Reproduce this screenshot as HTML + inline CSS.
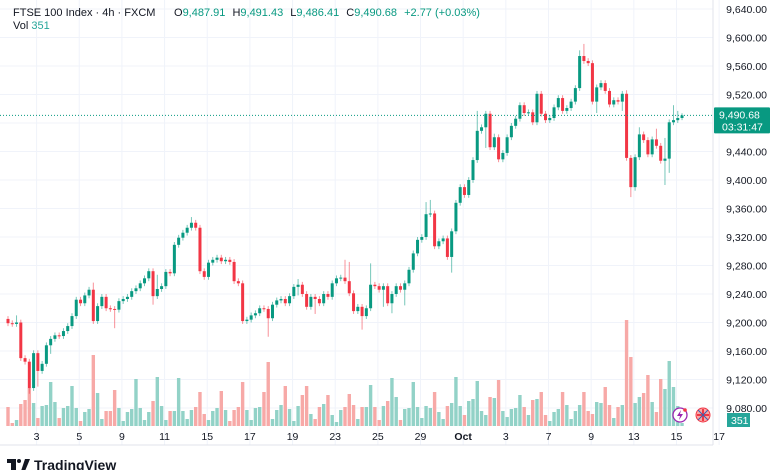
<!DOCTYPE html>
<html><head><meta charset="utf-8">
<style>
body{margin:0;background:#fff;font-family:"Liberation Sans",sans-serif;}
#wrap{position:relative;width:780px;height:470px;overflow:hidden;background:#fff;}
svg text{font-family:"Liberation Sans",sans-serif;}
</style></head>
<body>
<div id="wrap">
<svg id="chart" width="780" height="470" viewBox="0 0 780 470">
  <g id="grid"></g>
  <g id="vols"></g>
  <g id="candles"></g>
  <g id="yaxis"></g>
  <g id="xaxis"></g>
  <line x1="0" y1="445" x2="713" y2="445" stroke="#e0e3eb" stroke-width="1"/>
  <line x1="713" y1="0" x2="713" y2="445" stroke="#e0e3eb" stroke-width="1"/>
  <line id="curline" x1="0" x2="713" stroke="#089981" stroke-width="1" stroke-dasharray="1,2"/>
  <g>
    <rect id="curbox" x="714" width="56" height="26" fill="#089981" rx="1"/>
    <text id="curtxt1" x="719" font-size="10.5" fill="#fff">9,490.68</text>
    <text id="curtxt2" x="722" font-size="10.5" fill="#fff">03:31:47</text>
  </g>
  <g>
    <rect x="727" y="413" width="23" height="14" fill="#26a69a"/>
    <text x="731" y="424" font-size="10.5" fill="#fff">351</text>
  </g>
  <g>
    <circle cx="680" cy="415" r="7" fill="#fff" stroke="#9c27b0" stroke-width="1.3"/>
    <path d="M681 410 L677 416 L680 416 L679 420 L683 414 L680 414 Z" fill="#9c27b0"/>
    <circle cx="685" cy="410" r="1.8" fill="#f23645"/>
  </g>
  <g>
    <circle cx="703" cy="415" r="7" fill="#f7a9a7" stroke="#f23645" stroke-width="1"/>
    <path d="M697 415 H709 M703 409 V421" stroke="#f23645" stroke-width="2"/>
    <path d="M698 410 L708 420 M708 410 L698 420" stroke="#3a5fb0" stroke-width="1"/>
  </g>
  <g font-size="11">
    <text x="13" y="16" fill="#131722">FTSE 100 Index · 4h · FXCM</text>
    <text x="174" y="16" fill="#089981"><tspan fill="#131722">O</tspan>9,487.91 <tspan fill="#131722" dx="4">H</tspan>9,491.43 <tspan fill="#131722" dx="4">L</tspan>9,486.41 <tspan fill="#131722" dx="4">C</tspan>9,490.68 <tspan dx="4">+2.77 (+0.03%)</tspan></text>
    <text x="13" y="29" fill="#131722">Vol <tspan fill="#26a69a">351</tspan></text>
  </g>
  <g>
    <path d="M7 459 H16 V471 H11 V463 H7 Z" fill="#131722"/>
    <circle cx="19" cy="461" r="2" fill="#131722"/>
    <path d="M21 471 L25 459 H30 L25 471 Z" fill="#131722"/>
    <text x="34" y="470" font-size="14" font-weight="bold" fill="#131722">TradingView</text>
  </g>
</svg>
</div>
<script>
const closes=[9199,9198,9200,9150,9145,9108,9157,9132,9142,9168,
9177,9182,9181,9188,9195,9209,9232,9227,9238,9246,
9202,9223,9236,9220,9219,9218,9230,9233,9236,9244,
9248,9255,9262,9272,9237,9247,9251,9271,9269,9309,
9319,9326,9333,9340,9333,9272,9264,9284,9288,9291,
9286,9288,9285,9258,9255,9202,9204,9210,9213,9220,
9219,9206,9225,9231,9233,9227,9237,9250,9253,9240,
9222,9236,9233,9227,9240,9236,9255,9262,9263,9258,
9241,9216,9222,9209,9220,9253,9251,9246,9251,9227,
9240,9251,9246,9255,9274,9297,9316,9320,9352,9353,
9307,9314,9318,9292,9328,9368,9390,9379,9400,9428,
9469,9474,9493,9446,9460,9429,9438,9460,9476,9486,
9505,9494,9495,9481,9521,9493,9484,9487,9502,9515,
9497,9501,9510,9529,9574,9567,9564,9510,9530,9536,
9525,9506,9512,9510,9521,9431,9390,9432,9464,9456,
9436,9457,9448,9427,9430,9481,9484,9487,9490.68];
const firstOpen=9205;
const wickHi=[4,4,10,4,4,4,4,4,4,4, 4,4,4,4,4,4,4,4,4,4, 10,4,4,4,4,4,4,4,4,4, 4,4,4,4,4,20,4,4,4,4,
4,4,4,8,4,4,4,4,4,4, 4,4,4,4,4,4,4,4,4,4, 4,4,4,4,4,4,4,4,8,4, 4,4,4,4,4,4,4,4,4,25,
27,4,4,4,4,30,4,4,4,4, 4,4,4,4,4,4,4,4,17,19, 4,4,4,4,4,4,4,4,4,4, 28,4,4,4,5,4,4,4,4,4,
4,4,4,4,4,4,4,4,4,4, 4,4,4,4,8,17,4,4,4,4, 4,4,4,4,4,5,4,4,10,4, 4,4,15,4,29,4,21,10,3];
const wickLo=[4,4,4,4,4,8,4,22,4,4, 12,4,4,4,4,4,4,4,4,4, 4,4,4,4,4,26,4,4,4,4, 4,4,4,4,12,4,4,4,4,4,
4,4,4,4,4,4,4,4,4,4, 4,4,4,4,4,4,4,4,4,4, 4,26,4,4,4,4,4,4,12,4, 4,4,21,4,4,4,4,4,4,4,
4,4,4,19,4,4,4,4,24,4, 14,4,4,22,4,4,4,4,4,4, 4,4,4,4,22,4,4,4,4,4, 4,4,29,4,4,4,4,4,4,4,
4,4,4,4,4,4,4,4,4,4, 4,4,4,4,4,4,4,4,16,4, 4,4,4,4,13,4,14,5,4,4, 4,4,4,4,34,20,4,4,3];
const volumes=[19,3,6,22,26,38,23,8,20,21,
44,24,8,18,20,40,18,5,14,17,
71,33,7,15,15,36,18,5,14,17,
47,18,6,14,25,49,20,6,15,15,
48,15,7,16,19,34,12,6,15,18,
35,16,5,16,19,44,16,6,18,19,
34,64,7,16,21,40,17,5,20,31,
40,12,7,19,22,31,11,4,16,19,
32,21,7,19,19,41,19,6,20,25,
48,29,6,17,18,44,19,8,20,18,
34,14,7,20,23,49,20,11,25,27,
45,15,11,29,28,46,15,9,17,18,
31,19,11,26,27,34,11,5,14,17,
34,21,7,15,21,34,15,12,24,23,
39,21,8,19,21,106,69,23,29,33,
51,24,14,47,37,65,39,20,3];
const priceTicks=[9080,9120,9160,9200,9240,9280,9320,9360,9400,9440,9480,9520,9560,9600,9640];
const dateLabels=["3","5","9","11","15","17","19","23","25","29","Oct","3","7","9","13","15","17"];
const dateBarIdx=[6.7,16.7,26.7,36.7,46.7,56.7,66.7,76.7,86.7,96.7,106.7,116.7,126.7,136.7,146.7,156.7,166.7];

const NS="http://www.w3.org/2000/svg";
function y(p){return 9+(9640-p)*0.7125;}
function x(i){return 8+i*4.266;}
function vy(v){return 426-v*1.0;}
function mk(tag,attrs,parent){const e=document.createElementNS(NS,tag);for(const k in attrs)e.setAttribute(k,attrs[k]);parent.appendChild(e);return e;}
const grid=document.getElementById('grid'),ya=document.getElementById('yaxis'),xa=document.getElementById('xaxis');
priceTicks.forEach(p=>{
  const l=mk('line',{x1:0,x2:713,y1:y(p),y2:y(p),stroke:'#f0f3fa','stroke-width':1},grid);
  
  
  const t=mk('text',{x:767,y:y(p)+4,'font-size':10.5,fill:'#131722','text-anchor':'end'},ya);
  t.textContent=p.toLocaleString('en-US',{minimumFractionDigits:2});
  
  
});
dateLabels.forEach((d,k)=>{
  const xx=x(dateBarIdx[k]);
  const l=mk('line',{x1:xx,x2:xx,y1:0,y2:445,stroke:'#f0f3fa','stroke-width':1},grid);
  
  
  const t=mk('text',{x:xx,y:440,'font-size':10.5,fill:'#131722','text-anchor':'middle','font-weight':d==='Oct'?'bold':'normal'},xa);
  t.textContent=d;
  
  
});
const cg=document.getElementById('candles'),vg=document.getElementById('vols');
closes.forEach((c,i)=>{
  const o=i===0?firstOpen:closes[i-1];
  const up=c>=o;
  const col=up?'#089981':'#f23645';
  const top=Math.max(o,c),bot=Math.min(o,c);
  const xc=x(i);
  const w=mk('line',{x1:xc,x2:xc,y1:y(top+wickHi[i]),y2:y(bot-wickLo[i]),stroke:col,'stroke-width':1,'stroke-opacity':0.55},cg);
  
  
  const b=mk('rect',{x:xc-1.5,y:y(top),width:3,height:Math.max(1,y(bot)-y(top)),fill:col},cg);
  
  
  const v=mk('rect',{x:xc-1.7,y:vy(volumes[i]),width:3.4,height:426-vy(volumes[i]),fill:up?'#92d2c7':'#f7a9a7'},vg);
  
  
});
const last=closes[closes.length-1];
const cl=document.getElementById('curline');cl.setAttribute('y1',y(last));cl.setAttribute('y2',y(last));
document.getElementById('curbox').setAttribute('y',y(last)-8);
document.getElementById('curtxt1').setAttribute('y',y(last)+3);
document.getElementById('curtxt2').setAttribute('y',y(last)+15);
</script>
</body></html>
